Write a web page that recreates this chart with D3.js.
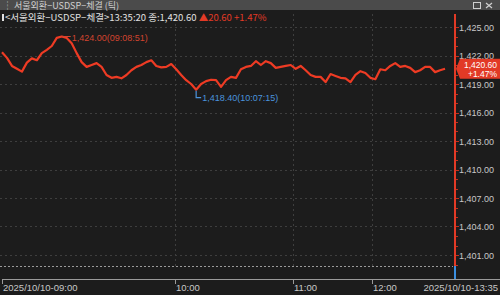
<!DOCTYPE html>
<html>
<head>
<meta charset="utf-8">
<script src="https://cdn.jsdelivr.net/npm/d3@7/dist/d3.min.js"></script>
<style>
  html, body { margin: 0; padding: 0; background: #1c1c1c; }
  svg { display: block; }
  text { font-family: "Noto Sans CJK KR", "DejaVu Sans", sans-serif; }
  text.num { font-family: "Liberation Sans", Arial, sans-serif; }
</style>
</head>
<body>
<script>
// USD/KRW tick prices (서울외환 USDSP 체결), one value per tick step
var prices = [
  1422.35, 1421.75, 1420.90, 1420.60, 1420.30, 1421.25, 1421.70, 1421.50, 1422.25, 1422.60,
  1423.00, 1423.85, 1424.00, 1423.85, 1423.30, 1422.25, 1421.30, 1420.80, 1421.00, 1421.20,
  1420.80, 1419.95, 1419.65, 1419.75, 1419.60, 1419.95, 1420.45, 1420.80, 1421.00, 1421.30,
  1421.50, 1420.90, 1420.75, 1420.80, 1421.10, 1420.55, 1419.95, 1419.40, 1419.00, 1418.40,
  1419.00, 1419.30, 1419.45, 1419.40, 1418.70, 1419.40, 1419.75, 1419.65, 1420.55, 1420.80,
  1420.90, 1421.40, 1421.00, 1421.40, 1421.20, 1420.70, 1420.80, 1420.90, 1421.00, 1420.60,
  1420.90, 1420.45, 1419.95, 1419.75, 1419.75, 1419.20, 1420.05, 1419.85, 1419.65, 1419.60,
  1419.20, 1419.95, 1420.35, 1420.15, 1419.65, 1419.50, 1420.55, 1420.45, 1420.90, 1421.20,
  1420.80, 1420.90, 1420.70, 1420.25, 1420.45, 1420.80, 1420.80, 1420.25, 1420.45, 1420.60
];
var totalSlots = 91;

var yTicks = [1401, 1404, 1407, 1410, 1413, 1416, 1419, 1422, 1425];
var timeTickIdx = [0, 34.75, 58.5, 74.3];
var timeTickLabels = ["2025/10/10-09:00", "10:00", "11:00", "12:00"];
var endLabel = "2025/10/10-13:35";

var title = "서울외환−USDSP−체결 (틱)";
var legendName = "<서울외환−USDSP−체결>13:35:20 종:1,420.60";
var legendChange = "▲20.60";
var legendPct = "+1.47%";
var lastPrice = "1,420.60";
var lastPct = "+1.47%";
var maxTime = "09:08:51";
var minTime = "10:07:15";

var W = 500, H = 295;
var plotL = 2, plotR = 455, plotT = 14, plotB = 266, axisY = 279;

var fmt = d3.format(",.2f");

var svg = d3.select("body").append("svg")
  .attr("width", W).attr("height", H);

svg.append("rect").attr("width", W).attr("height", H).attr("fill", "#1c1c1c");

// title bar
svg.append("rect").attr("x", 0).attr("y", 0).attr("width", W).attr("height", 10)
  .attr("fill", "#4b4b4b");
svg.append("text").attr("x", 3).attr("y", 8.5).attr("fill", "#d0d0d0")
  .attr("font-size", "9px").text("┆ " + title);
svg.append("rect").attr("x", 473.5).attr("y", 2.5).attr("width", 7).attr("height", 6)
  .attr("fill", "none").attr("stroke", "#d0d0d0").attr("stroke-width", 1);
svg.append("path").attr("d", "M486,3L492,8M492,3L486,8")
  .attr("stroke", "#d0d0d0").attr("stroke-width", 1.2);

var x = d3.scaleLinear().domain([0, totalSlots]).range([plotL, plotR]);
var y = d3.scaleLinear().domain([1400, 1425]).range([264.5, 27]);

// horizontal grid
svg.append("g").selectAll("line").data(yTicks).enter().append("line")
  .attr("x1", 0).attr("x2", plotR - 2)
  .attr("y1", function(d) { return Math.round(y(d)) + 0.5; })
  .attr("y2", function(d) { return Math.round(y(d)) + 0.5; })
  .attr("stroke", "#3e3e3e").attr("stroke-dasharray", "2,3");

// baseline dotted
svg.append("line").attr("x1", 0).attr("x2", plotR - 2)
  .attr("y1", Math.round(y(1400)) + 1.5).attr("y2", Math.round(y(1400)) + 1.5)
  .attr("stroke", "#9a9a9a").attr("stroke-dasharray", "2,2");

// vertical grid
svg.append("g").selectAll("line").data(timeTickIdx.slice(1)).enter().append("line")
  .attr("x1", function(d) { return Math.round(x(d)) + 0.5; })
  .attr("x2", function(d) { return Math.round(x(d)) + 0.5; })
  .attr("y1", plotT).attr("y2", plotB)
  .attr("stroke", "#3e3e3e").attr("stroke-dasharray", "2,3");

// price line
var line = d3.line()
  .x(function(d, i) { return x(i); })
  .y(function(d) { return y(d); });

svg.append("path").datum(prices)
  .attr("d", line)
  .attr("fill", "none")
  .attr("stroke", "#ee3b24")
  .attr("stroke-width", 2.2)
  .attr("stroke-linejoin", "round");

// max / min markers
var maxV = d3.max(prices), minV = d3.min(prices);
var maxI = prices.indexOf(maxV), minI = prices.indexOf(minV);

svg.append("line")
  .attr("x1", x(maxI)).attr("x2", x(maxI) + 9)
  .attr("y1", y(maxV)).attr("y2", y(maxV))
  .attr("stroke", "#d2442f").attr("stroke-width", 1);
svg.append("text").attr("class", "num").attr("x", x(maxI) + 10).attr("y", y(maxV) + 4)
  .attr("fill", "#d2442f").attr("font-size", "9px")
  .text(fmt(maxV) + "(" + maxTime + ")");

svg.append("path")
  .attr("d", "M" + x(minI) + "," + (y(minV) + 1) + "V" + (y(minV) + 8) + "H" + (x(minI) + 5))
  .attr("fill", "none").attr("stroke", "#4a93dc").attr("stroke-width", 1.2);
svg.append("text").attr("class", "num").attr("x", x(minI) + 6).attr("y", y(minV) + 11)
  .attr("fill", "#4a93dc").attr("font-size", "9px")
  .text(fmt(minV) + "(" + minTime + ")");

// right axis line (red) and blue foot
svg.append("line").attr("x1", plotR).attr("x2", plotR)
  .attr("y1", plotT).attr("y2", plotB)
  .attr("stroke", "#e23a26").attr("stroke-width", 2);
svg.append("line").attr("x1", plotR).attr("x2", plotR)
  .attr("y1", plotB).attr("y2", axisY + 1)
  .attr("stroke", "#3b8fe0").attr("stroke-width", 2);

// minor ticks on axis
var minor = d3.range(1400, 1426);
svg.append("g").selectAll("line").data(minor).enter().append("line")
  .attr("x1", plotR + 1).attr("x2", function(d) { return yTicks.indexOf(d) >= 0 ? plotR + 4 : plotR + 3; })
  .attr("y1", function(d) { return Math.round(y(d)) + 0.5; })
  .attr("y2", function(d) { return Math.round(y(d)) + 0.5; })
  .attr("stroke", "#c03020");

// y labels
svg.append("g").selectAll("text").data(yTicks).enter().append("text")
  .attr("class", "num")
  .attr("x", 459).attr("y", function(d) { return y(d) + 3.5; })
  .attr("fill", "#c8c8c8").attr("font-size", "9px")
  .text(function(d) { return fmt(d); });

// current price box
var cy = y(prices[prices.length - 1]);
svg.append("path")
  .attr("d", "M" + (plotR + 1) + "," + cy + "L" + (plotR + 5) + "," + (cy - 10) + "H" + W + "V" + (cy + 10) + "H" + (plotR + 5) + "Z")
  .attr("fill", "#e23a26");
svg.append("text").attr("class", "num").attr("x", 497).attr("y", cy - 1.2)
  .attr("text-anchor", "end")
  .attr("fill", "#ffffff").attr("font-size", "8.5px").text(lastPrice);
svg.append("text").attr("class", "num").attr("x", 497).attr("y", cy + 8.3)
  .attr("text-anchor", "end")
  .attr("fill", "#ffffff").attr("font-size", "8.5px").text(lastPct);

// legend line
svg.append("rect").attr("x", 2).attr("y", 14).attr("width", 2).attr("height", 7).attr("fill", "#e0e0e0");
var leg = svg.append("text").attr("x", 5).attr("y", 21).attr("font-size", "9.5px");
leg.append("tspan").attr("fill", "#e0e0e0").text(legendName + " ");
leg.append("tspan").attr("fill", "#e23a26").text(legendChange + " " + legendPct);

// x axis
svg.append("line").attr("x1", plotL).attr("x2", W)
  .attr("y1", axisY + 0.5).attr("y2", axisY + 0.5)
  .attr("stroke", "#9a9a9a");
svg.append("g").selectAll("line").data(timeTickIdx).enter().append("line")
  .attr("x1", function(d) { return Math.round(x(d)) + 0.5; })
  .attr("x2", function(d) { return Math.round(x(d)) + 0.5; })
  .attr("y1", axisY).attr("y2", axisY + 5)
  .attr("stroke", "#9a9a9a");
svg.append("g").selectAll("text").data(timeTickIdx).enter().append("text")
  .attr("class", "num")
  .attr("x", function(d) { return Math.round(x(d)) + 1; })
  .attr("y", 291)
  .attr("fill", "#c8c8c8").attr("font-size", "9.5px")
  .text(function(d, i) { return timeTickLabels[i]; });
svg.append("text").attr("class", "num").attr("x", 498).attr("y", 291).attr("text-anchor", "end")
  .attr("fill", "#c8c8c8").attr("font-size", "9.5px").text(endLabel);
</script>
</body>
</html>
